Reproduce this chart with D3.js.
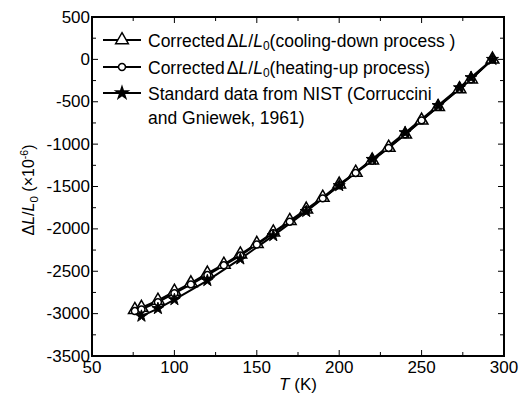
<!DOCTYPE html>
<html>
<head>
<meta charset="utf-8">
<script src="https://cdn.jsdelivr.net/npm/d3@7"></script>
<style>
  body { margin: 0; background: #fff; }
  text { font-family: "Liberation Sans", Arial, sans-serif; fill: #000; }
</style>
</head>
<body>
<div id="chart"></div>
<script>
// temperatures (K) and relative length change (x1e-6)
const tempCorr = [76, 80, 90, 100, 110, 120, 130, 140, 150, 160, 170, 180, 190, 200, 210, 220, 230, 240, 250, 260, 273, 280, 293];
const cooling = [-2955, -2930, -2845, -2740, -2640, -2525, -2420, -2300, -2175, -2040, -1905, -1770, -1630, -1475, -1335, -1190, -1040, -885, -720, -560, -350, -235, 0];
const heating = [-2970, -2950, -2865, -2760, -2655, -2545, -2430, -2315, -2185, -2050, -1915, -1780, -1640, -1485, -1340, -1195, -1045, -885, -720, -560, -350, -235, 0];
const tempNist = [80, 90, 100, 120, 140, 160, 180, 200, 220, 240, 260, 273, 280, 293];
const nist = [-3030, -2940, -2835, -2610, -2355, -2080, -1795, -1490, -1180, -865, -545, -335, -215, 0];

const xTicks = [50, 100, 150, 200, 250, 300];
const yTicks = [500, 0, -500, -1000, -1500, -2000, -2500, -3000, -3500];

const width = 524, height = 394;
const margin = {top: 17, right: 20, bottom: 38, left: 92};

const svg = d3.select("#chart").append("svg")
    .attr("width", width)
    .attr("height", height);

const x = d3.scaleLinear().domain([50, 300]).range([margin.left, width - margin.right]);
const y = d3.scaleLinear().domain([-3500, 500]).range([height - margin.bottom, margin.top]);

// frame
svg.append("rect")
    .attr("x", x(50)).attr("y", y(500))
    .attr("width", x(300) - x(50)).attr("height", y(-3500) - y(500))
    .attr("fill", "none").attr("stroke", "#000").attr("stroke-width", 2);

// inward ticks on all four sides
const xMinor = d3.range(50, 301, 25);
const yMinor = d3.range(-3500, 501, 250);
const ticks = svg.append("g").attr("stroke", "#000").attr("stroke-width", 1);
xMinor.forEach(v => {
  const len = v % 50 === 0 ? 6 : 4;
  ticks.append("line").attr("x1", x(v)).attr("x2", x(v)).attr("y1", y(-3500)).attr("y2", y(-3500) - len);
  ticks.append("line").attr("x1", x(v)).attr("x2", x(v)).attr("y1", y(500)).attr("y2", y(500) + len);
});
yMinor.forEach(v => {
  const len = v % 500 === 0 ? 6 : 4;
  ticks.append("line").attr("x1", x(50)).attr("x2", x(50) + len).attr("y1", y(v)).attr("y2", y(v));
  ticks.append("line").attr("x1", x(300)).attr("x2", x(300) - len).attr("y1", y(v)).attr("y2", y(v));
});

// tick labels
svg.append("g").selectAll("text").data(xTicks).join("text")
    .attr("x", d => x(d)).attr("y", 373)
    .attr("text-anchor", "middle").attr("font-size", 17)
    .text(d => d);
svg.append("g").selectAll("text").data(yTicks).join("text")
    .attr("x", x(50) - 2).attr("y", d => y(d) + 5.5)
    .attr("text-anchor", "end").attr("font-size", 17)
    .text(d => d);

// axis titles
const xt = svg.append("text").attr("x", 298).attr("y", 389.5).attr("text-anchor", "middle").attr("font-size", 17);
xt.append("tspan").attr("font-style", "italic").text("T");
xt.append("tspan").text(" (K)");

const yt = svg.append("text")
    .attr("transform", "translate(34,190) rotate(-90)")
    .attr("text-anchor", "middle").attr("font-size", 16);
yt.append("tspan").text("Δ");
yt.append("tspan").attr("font-style", "italic").text("L");
yt.append("tspan").text("/");
yt.append("tspan").attr("font-style", "italic").text("L");
yt.append("tspan").attr("font-size", 11.5).attr("dy", 4).text("0");
yt.append("tspan").attr("dy", -4).text(" (×10");
yt.append("tspan").attr("font-size", 10.5).attr("dy", -6).text("-6");
yt.append("tspan").attr("dy", 6).text(")");

// series
const line = d3.line().x(d => x(d[0])).y(d => y(d[1]));
const coolPts = d3.zip(tempCorr, cooling);
const heatPts = d3.zip(tempCorr, heating);
const nistPts = d3.zip(tempNist, nist);

const tri = d3.symbol().type(d3.symbolTriangle).size(70);
const circ = d3.symbol().type(d3.symbolCircle).size(38);
const star = d3.symbol().type(d3.symbolStar).size(45);

[nistPts, heatPts, coolPts].forEach(pts => {
  svg.append("path").datum(pts).attr("d", line)
      .attr("fill", "none").attr("stroke", "#000").attr("stroke-width", 2);
});

svg.append("g").selectAll("path").data(coolPts).join("path")
    .attr("d", tri).attr("transform", d => `translate(${x(d[0])},${y(d[1])})`)
    .attr("fill", "#fff").attr("stroke", "#000").attr("stroke-width", 1.5);
svg.append("g").selectAll("path").data(heatPts).join("path")
    .attr("d", circ).attr("transform", d => `translate(${x(d[0])},${y(d[1])})`)
    .attr("fill", "#fff").attr("stroke", "#000").attr("stroke-width", 1.5);
svg.append("g").selectAll("path").data(nistPts).join("path")
    .attr("d", star).attr("transform", d => `translate(${x(d[0])},${y(d[1])})`)
    .attr("fill", "#000").attr("stroke", "#000").attr("stroke-width", 1);

// legend
const legend = [
  {sym: tri, fill: "#fff", y: 40, label: "(cooling-down process )", corrected: true},
  {sym: circ, fill: "#fff", y: 67, label: "(heating-up process)", corrected: true},
  {sym: star, fill: "#000", y: 93, label: "Standard data from NIST (Corruccini", corrected: false}
];
const lg = svg.append("g");
legend.forEach(d => {
  lg.append("line").attr("x1", 103).attr("x2", 141).attr("y1", d.y).attr("y2", d.y)
      .attr("stroke", "#000").attr("stroke-width", 2);
  lg.append("path").attr("d", d.sym).attr("transform", `translate(122,${d.y})`)
      .attr("fill", d.fill).attr("stroke", "#000").attr("stroke-width", 1.5);
  const t = lg.append("text").attr("x", 148).attr("y", d.y + 6.5).attr("font-size", 17.5);
  if (d.corrected) {
    t.append("tspan").text("Corrected");
    t.append("tspan").attr("dx", 2).text("Δ");
    t.append("tspan").attr("font-style", "italic").text("L");
    t.append("tspan").text("/");
    t.append("tspan").attr("font-style", "italic").text("L");
    t.append("tspan").attr("font-size", 12).attr("dy", 3).text("0");
    t.append("tspan").attr("dy", -3).text(d.label);
  } else {
    t.text(d.label);
  }
});
lg.append("text").attr("x", 148).attr("y", 123.5).attr("font-size", 17.5).text("and Gniewek, 1961)");
</script>
</body>
</html>
